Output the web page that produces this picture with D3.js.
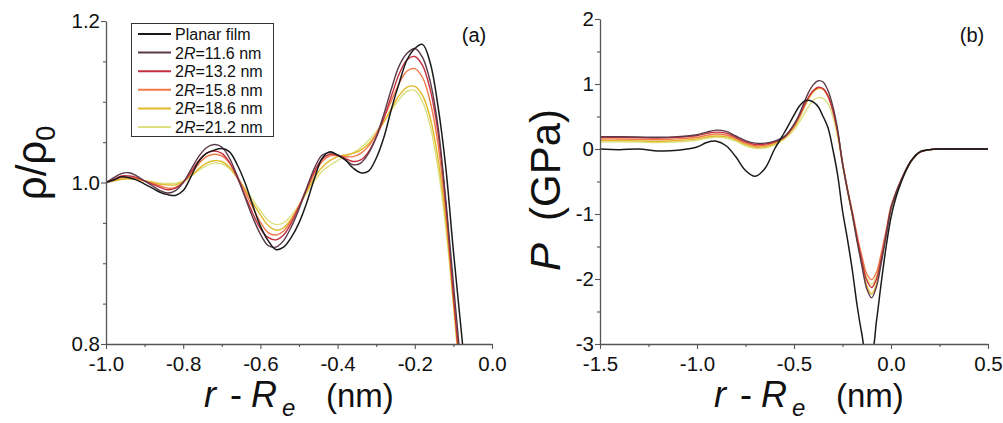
<!DOCTYPE html>
<html>
<head>
<meta charset="utf-8">
<script src="https://cdn.jsdelivr.net/npm/d3@7"></script>
<style>
  body { margin: 0; background: #fff; }
  svg { font-family: "Liberation Sans", Arial, sans-serif; display: block; }
</style>
</head>
<body>
<div id="chart"></div>
<script>
// Series names and colours (legend order)
const seriesNames = ["Planar film", "2R=11.6 nm", "2R=13.2 nm", "2R=15.8 nm", "2R=18.6 nm", "2R=21.2 nm"];
const seriesColors = ["#1a1a1a", "#5a3a48", "#c4303f", "#f07a48", "#e0b828", "#dce080"];

// Panel (a): density profile rho/rho0 vs r - Re
const xA = [-1.00,-0.98,-0.96,-0.94,-0.92,-0.90,-0.88,-0.86,-0.84,-0.82,-0.80,-0.78,-0.76,-0.74,-0.72,-0.70,
  -0.68,-0.66,-0.64,-0.62,-0.60,-0.58,-0.56,-0.54,-0.52,-0.50,-0.48,-0.46,-0.44,-0.42,-0.40,-0.38,
  -0.36,-0.34,-0.32,-0.30,-0.28,-0.26,-0.24,-0.22,-0.20,-0.18,-0.16,-0.14,-0.12,-0.10,-0.08,-0.06];
const rhoPlanar = [1.000,1.003,1.007,1.006,1.003,0.998,0.993,0.988,0.985,0.984,0.990,1.007,1.026,1.036,1.040,1.042,
  1.038,1.022,1.000,0.972,0.946,0.928,0.917,0.920,0.932,0.950,0.975,1.005,1.030,1.038,1.034,1.028,
  1.018,1.012,1.014,1.030,1.056,1.092,1.124,1.152,1.166,1.171,1.148,1.095,1.020,0.915,0.818,0.72];
const rho116 = [1.000,1.006,1.011,1.012,1.008,1.002,0.996,0.990,0.987,0.990,1.000,1.016,1.032,1.043,1.047,1.044,
  1.030,1.008,0.982,0.957,0.936,0.922,0.920,0.928,0.945,0.967,0.993,1.018,1.034,1.037,1.034,1.028,
  1.022,1.024,1.036,1.056,1.085,1.117,1.145,1.160,1.166,1.155,1.125,1.070,0.980,0.875,0.770,0.67];
const rho132 = [1.000,1.004,1.008,1.008,1.006,1.002,0.998,0.994,0.991,0.993,1.000,1.013,1.027,1.036,1.039,1.036,
  1.025,1.006,0.984,0.962,0.943,0.932,0.929,0.935,0.950,0.970,0.993,1.014,1.029,1.035,1.034,1.030,
  1.026,1.028,1.038,1.056,1.080,1.108,1.135,1.152,1.156,1.145,1.115,1.062,0.975,0.860,0.755,0.65];
const rho158 = [1.000,1.003,1.006,1.006,1.005,1.002,0.999,0.996,0.993,0.994,1.000,1.011,1.023,1.032,1.035,1.033,
  1.024,1.008,0.989,0.969,0.951,0.938,0.935,0.940,0.953,0.971,0.991,1.011,1.026,1.033,1.033,1.032,
  1.032,1.036,1.045,1.060,1.080,1.102,1.123,1.138,1.141,1.130,1.100,1.048,0.965,0.858,0.752,0.65];
const rho186 = [1.000,1.002,1.004,1.005,1.004,1.002,1.000,0.998,0.997,0.997,1.001,1.008,1.017,1.024,1.027,1.026,
  1.019,1.006,0.991,0.975,0.960,0.947,0.941,0.944,0.955,0.971,0.989,1.006,1.019,1.027,1.032,1.034,
  1.036,1.040,1.048,1.060,1.075,1.092,1.108,1.118,1.119,1.108,1.080,1.030,0.955,0.852,0.745,0.64];
const rho212 = [1.000,1.002,1.004,1.004,1.004,1.002,1.001,0.999,0.999,0.999,1.002,1.008,1.015,1.021,1.024,1.023,
  1.017,1.006,0.993,0.979,0.965,0.953,0.948,0.950,0.959,0.972,0.987,1.002,1.014,1.021,1.027,1.032,
  1.037,1.043,1.052,1.063,1.076,1.090,1.103,1.113,1.114,1.100,1.070,1.018,0.945,0.848,0.742,0.64];

// Panel (b): pressure profile P (GPa) vs r - Re
const xB = [-1.5,-1.4,-1.3,-1.2,-1.1,-1.0,-0.95,-0.9,-0.85,-0.8,-0.75,-0.7,-0.65,-0.6,-0.55,-0.5,
  -0.475,-0.45,-0.425,-0.4,-0.375,-0.35,-0.325,-0.3,-0.275,-0.25,-0.225,-0.2,-0.175,-0.15,-0.125,-0.1,
  -0.075,-0.05,-0.025,0,0.025,0.05,0.075,0.1,0.125,0.15,0.2,0.25,0.3,0.4,0.5];
const pPlanar = [0.0,-0.01,0.0,-0.03,-0.02,0.03,0.10,0.12,0.05,-0.12,-0.33,-0.42,-0.30,0.0,0.25,0.52,
  0.65,0.73,0.75,0.72,0.65,0.50,0.33,0.0,-0.40,-0.95,-1.38,-1.85,-2.40,-2.85,-3.20,-3.15,
  -2.65,-2.05,-1.50,-1.05,-0.75,-0.53,-0.35,-0.20,-0.10,-0.04,-0.01,0,0,0,0];
const p116 = [0.19,0.19,0.185,0.18,0.19,0.22,0.26,0.29,0.27,0.20,0.13,0.09,0.09,0.12,0.19,0.38,
  0.52,0.70,0.87,0.99,1.05,1.03,0.90,0.66,0.30,-0.22,-0.62,-1.00,-1.42,-1.80,-2.15,-2.29,
  -2.12,-1.75,-1.33,-0.92,-0.68,-0.50,-0.33,-0.20,-0.11,-0.05,-0.01,0,0,0,0];
const p132 = [0.18,0.18,0.175,0.17,0.18,0.205,0.24,0.26,0.245,0.18,0.11,0.07,0.075,0.11,0.18,0.37,
  0.50,0.66,0.80,0.90,0.95,0.93,0.82,0.60,0.26,-0.22,-0.62,-0.98,-1.37,-1.72,-2.02,-2.13,
  -2.00,-1.68,-1.30,-0.90,-0.68,-0.49,-0.33,-0.20,-0.11,-0.05,-0.01,0,0,0,0];
const p158 = [0.155,0.155,0.15,0.145,0.155,0.18,0.21,0.23,0.215,0.16,0.09,0.05,0.055,0.10,0.18,0.35,
  0.48,0.64,0.79,0.90,0.94,0.92,0.81,0.59,0.25,-0.20,-0.60,-0.95,-1.32,-1.65,-1.92,-2.01,
  -1.90,-1.60,-1.25,-0.88,-0.67,-0.49,-0.33,-0.20,-0.11,-0.05,-0.01,0,0,0,0];
const p186 = [0.13,0.13,0.125,0.12,0.13,0.155,0.185,0.20,0.19,0.14,0.07,0.03,0.035,0.08,0.17,0.33,
  0.46,0.62,0.77,0.88,0.93,0.915,0.81,0.60,0.26,-0.20,-0.62,-1.00,-1.40,-1.78,-2.10,-2.23,
  -2.08,-1.72,-1.32,-0.92,-0.69,-0.50,-0.34,-0.21,-0.11,-0.05,-0.01,0,0,0,0];
const p212 = [0.11,0.11,0.105,0.10,0.11,0.135,0.165,0.18,0.17,0.12,0.05,0.01,0.015,0.06,0.15,0.29,
  0.40,0.53,0.65,0.75,0.79,0.78,0.70,0.50,0.18,-0.25,-0.65,-1.00,-1.37,-1.70,-1.98,-2.08,
  -1.96,-1.65,-1.28,-0.90,-0.68,-0.50,-0.34,-0.21,-0.11,-0.05,-0.01,0,0,0,0];

// Tick values
const xTicksA = [-1.0,-0.8,-0.6,-0.4,-0.2,0.0];
const xMinorA = [-0.9,-0.7,-0.5,-0.3,-0.1];
const yTicksA = [0.8,1.0,1.2];
const yMinorA = [0.85,0.9,0.95,1.05,1.1,1.15];
const xTicksB = [-1.5,-1.0,-0.5,0.0,0.5];
const xMinorB = [-1.25,-0.75,-0.25,0.25];
const yTicksB = [-3,-2,-1,0,1,2];
const yMinorB = [-2.5,-1.5,-0.5,0.5,1.5];

const rhoSeries = [rhoPlanar, rho116, rho132, rho158, rho186, rho212];
const pSeries = [pPlanar, p116, p132, p158, p186, p212];

const W = 1003, H = 423;
const axisColor = "#555";

const svg = d3.select("#chart").append("svg")
  .attr("width", W)
  .attr("height", H);

svg.append("rect").attr("width", W).attr("height", H).attr("fill", "#fff");

function drawPanel(opts) {
  const { id, x, y, xs, series, xTicks, xMinor, yTicks, yMinor, xFmt, yFmt } = opts;
  const [x0, x1] = x.range();
  const [y0, y1] = y.range(); // y0 bottom, y1 top

  // clip to plotting area
  svg.append("clipPath").attr("id", "clip-" + id)
    .append("rect")
    .attr("x", x0).attr("y", y1)
    .attr("width", x1 - x0).attr("height", y0 - y1);

  const line = d3.line()
    .x((d, i) => x(xs[i]))
    .y(d => y(d))
    .curve(d3.curveCatmullRom.alpha(0.5));

  const g = svg.append("g").attr("clip-path", `url(#clip-${id})`);
  // draw lightest first, planar film last
  for (let s = series.length - 1; s >= 0; s--) {
    g.append("path")
      .attr("d", line(series[s]))
      .attr("fill", "none")
      .attr("stroke", seriesColors[s])
      .attr("stroke-width", s === 0 ? 1.5 : 1.4)
      .attr("stroke-linejoin", "round");
  }

  // axes
  const xAxis = svg.append("g")
    .attr("transform", `translate(0,${y0})`)
    .call(d3.axisBottom(x).tickValues(xTicks).tickFormat(xFmt).tickSize(5).tickSizeOuter(0).tickPadding(7));
  svg.append("g")
    .attr("transform", `translate(0,${y0})`)
    .call(d3.axisBottom(x).tickValues(xMinor).tickFormat("").tickSize(3).tickSizeOuter(0))
    .select(".domain").remove();

  const yAxis = svg.append("g")
    .attr("transform", `translate(${x0},0)`)
    .call(d3.axisLeft(y).tickValues(yTicks).tickFormat(yFmt).tickSize(5).tickSizeOuter(0).tickPadding(1));
  svg.append("g")
    .attr("transform", `translate(${x0},0)`)
    .call(d3.axisLeft(y).tickValues(yMinor).tickFormat("").tickSize(3).tickSizeOuter(0))
    .select(".domain").remove();

  svg.selectAll(".domain").attr("stroke", axisColor).attr("stroke-width", 1.3);
  svg.selectAll(".tick line").attr("stroke", axisColor).attr("stroke-width", 1.1);
  [xAxis, yAxis].forEach(a => a.selectAll("text")
    .attr("font-size", 20.5)
    .attr("fill", "#111")
    .attr("font-family", "'Liberation Sans', Arial, sans-serif"));
}

const xa = d3.scaleLinear().domain([-1, 0]).range([106, 492]);
const ya = d3.scaleLinear().domain([0.8, 1.2]).range([344, 21]);
const xb = d3.scaleLinear().domain([-1.5, 0.5]).range([600, 988]);
const yb = d3.scaleLinear().domain([-3, 2]).range([344, 19]);

drawPanel({ id: "a", x: xa, y: ya, xs: xA, series: rhoSeries,
  xTicks: xTicksA, xMinor: xMinorA, yTicks: yTicksA, yMinor: yMinorA,
  xFmt: d => d.toFixed(1), yFmt: d => d.toFixed(1) });

drawPanel({ id: "b", x: xb, y: yb, xs: xB, series: pSeries,
  xTicks: xTicksB, xMinor: xMinorB, yTicks: yTicksB, yMinor: yMinorB,
  xFmt: d => d.toFixed(1), yFmt: d => String(d) });

// x-axis titles: r - R_e  (nm)
function xTitle(tx) {
  const g = svg.append("g").attr("transform", `translate(${tx},407)`).attr("fill", "#111");
  g.append("text").attr("x", 0).attr("font-size", 36).attr("font-style", "italic").text("r");
  g.append("text").attr("x", 26).attr("font-size", 36).text("-");
  g.append("text").attr("x", 47).attr("font-size", 36).attr("font-style", "italic").text("R");
  g.append("text").attr("x", 78).attr("y", 9).attr("font-size", 24).attr("font-style", "italic").text("e");
  g.append("text").attr("x", 122).attr("font-size", 33).text("(nm)");
}
xTitle(204);
xTitle(714);

// y-axis title (a): rho/rho0
const ytA = svg.append("text")
  .attr("transform", "translate(46,163) rotate(-90)")
  .attr("text-anchor", "middle")
  .attr("font-size", 42)
  .attr("fill", "#111");
ytA.append("tspan").text("ρ/ρ");
ytA.append("tspan").attr("font-size", 27).attr("dy", 9).text("0");

// y-axis title (b): P (GPa)
const ytB = svg.append("text")
  .attr("transform", "translate(560,190) rotate(-90)")
  .attr("text-anchor", "middle")
  .attr("font-size", 42)
  .attr("fill", "#111");
ytB.append("tspan").attr("font-style", "italic").text("P");
ytB.append("tspan").attr("dx", 22).text("(GPa)");

// panel labels
svg.append("text").attr("x", 474).attr("y", 42).attr("text-anchor", "middle")
  .attr("font-size", 20).attr("fill", "#111").text("(a)");
svg.append("text").attr("x", 972).attr("y", 42).attr("text-anchor", "middle")
  .attr("font-size", 20).attr("fill", "#111").text("(b)");

// legend
const leg = svg.append("g");
leg.append("rect")
  .attr("x", 131.5).attr("y", 23.5).attr("width", 142).attr("height", 113)
  .attr("fill", "#fff").attr("stroke", "#333").attr("stroke-width", 1);
seriesNames.forEach((name, i) => {
  const cy = 34 + i * 18.6;
  leg.append("line")
    .attr("x1", 138).attr("x2", 171).attr("y1", cy).attr("y2", cy)
    .attr("stroke", seriesColors[i]).attr("stroke-width", 2);
  const t = leg.append("text").attr("x", 175).attr("y", cy + 6)
    .attr("font-size", 16).attr("fill", "#111");
  if (i === 0) {
    t.text(name);
  } else {
    const m = name.match(/^2R(=.*)$/);
    t.append("tspan").text("2");
    t.append("tspan").attr("font-style", "italic").text("R");
    t.append("tspan").text(m[1]);
  }
});
</script>
</body>
</html>
